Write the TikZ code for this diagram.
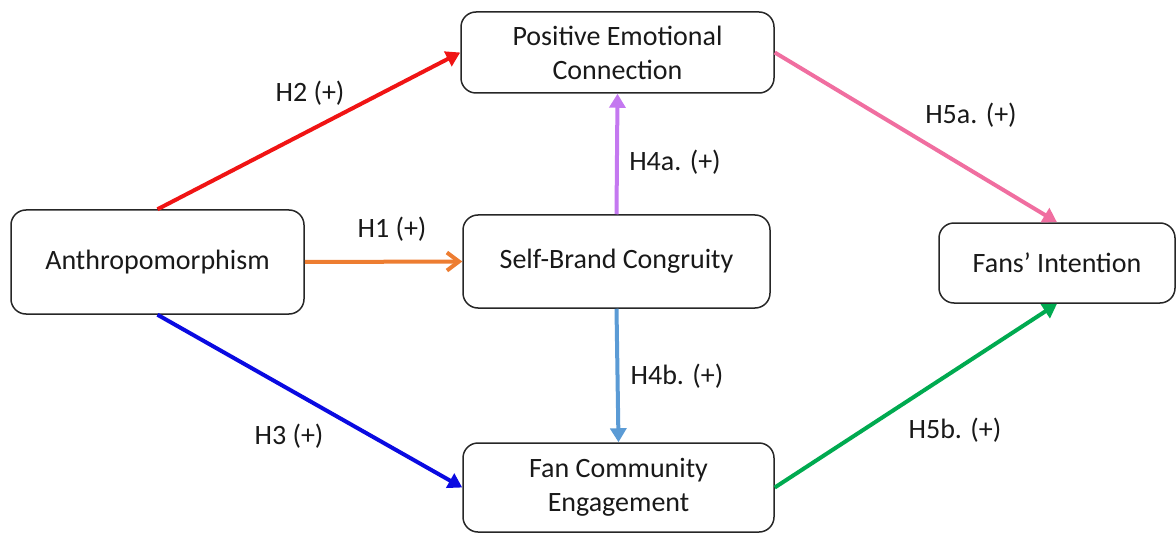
\documentclass[tikz,border=0pt]{standalone}
\usepackage{fontspec}
\setmainfont{Carlito}
\usetikzlibrary{arrows.meta}

\definecolor{hred}{RGB}{240,20,20}
\definecolor{horange}{RGB}{237,125,49}
\definecolor{hblue}{RGB}{10,10,225}
\definecolor{hpurple}{RGB}{196,120,240}
\definecolor{hlblue}{RGB}{91,155,213}
\definecolor{hpink}{RGB}{240,110,160}
\definecolor{hgreen}{RGB}{0,170,80}

\tikzset{
	box/.style={draw=black!85, line width=0.75pt, rounded corners=7.5pt, align=center, font=\fontsize{14}{17}\selectfont, text=black!90},
	hyp/.style={line width=2pt, -{Triangle[length=7pt,width=8pt]}},
	lbl/.style={font=\fontsize{14}{17}\selectfont, text=black!90}
}

\begin{document}
\begin{tikzpicture}[x=0.5pt,y=-0.5pt]
		\useasboundingbox (0,0) rectangle (1176,534);
		
		%constructs
		\node[box, minimum width=146.5pt, minimum height=52pt] (anthro) at (157.5,262) {Anthropomorphism};
		\node[box, minimum width=156.5pt, minimum height=40.5pt] (pec) at (617.5,52.5) {Positive Emotional\\Connection};
		\node[box, minimum width=153.5pt, minimum height=46.5pt] (sbc) at (616.5,261.5) {Self-Brand Congruity};
		\node[box, minimum width=118pt, minimum height=40pt] (fi) at (1057,263) {Fans’ Intention};
		\node[box, minimum width=155.5pt, minimum height=44.5pt] (fce) at (618.5,487.5) {Fan Community\\Engagement};
		
		%hypotheses
		\draw[hyp, hred] (anthro.north) -- (pec.west);
		\draw[line width=2pt, horange, -{Straight Barb[length=6pt,width=9pt,line width=2pt]}] (anthro.east) -- (sbc.west);
		\draw[hyp, hblue] (anthro.south) -- (fce.west);
		\draw[hyp, hpurple] (sbc.north) -- (pec.south);
		\draw[hyp, hlblue] (sbc.south) -- (fce.north);
		\draw[hyp, hpink] (pec.east) -- (fi.north);
		\draw[hyp, hgreen] (fce.east) -- (fi.south);
		
		%labels
		\node[lbl] (h1) at (392,229) {H1 (+)};
		\node[lbl] (h2) at (310,93) {H2 (+)};
		\node[lbl] (h3) at (289,436) {H3 (+)};
		\node[lbl] (h4a) at (675,162) {H4a. (+)};
		\node[lbl] (h4b) at (677,376) {H4b. (+)};
		\node[lbl] (h5a) at (971,115) {H5a. (+)};
		\node[lbl] (h5b) at (955,430) {H5b. (+)};
		
\end{tikzpicture}
\end{document}
